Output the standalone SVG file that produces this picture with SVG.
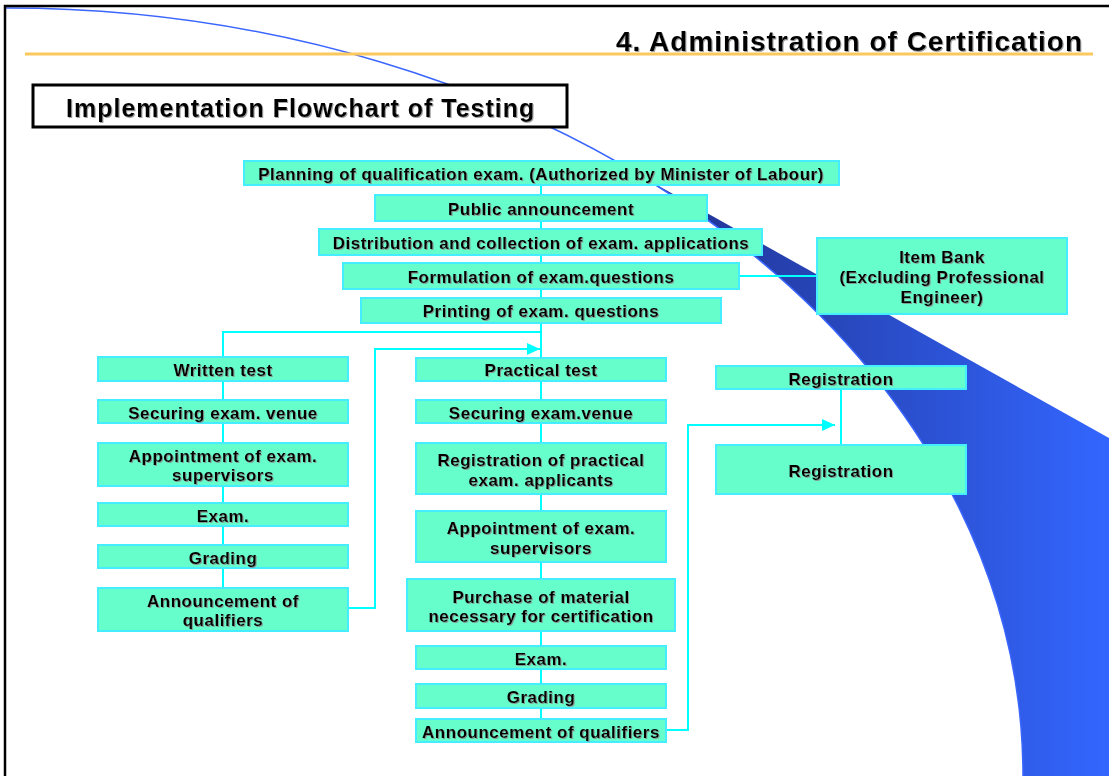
<svg xmlns="http://www.w3.org/2000/svg" width="1109" height="776" viewBox="0 0 1109 776">
  <defs>
    <linearGradient id="swooshFill" gradientUnits="userSpaceOnUse" x1="700" y1="0" x2="1109" y2="0">
      <stop offset="0" stop-color="#22379a"/>
      <stop offset="1" stop-color="#3366ff"/>
    </linearGradient>
    <filter id="shadow" x="-5%" y="-20%" width="110%" height="140%">
      <feDropShadow dx="1" dy="1" stdDeviation="0.4" flood-color="#888888" flood-opacity="0.8"/>
    </filter>
    <marker id="arrow" markerUnits="userSpaceOnUse" markerWidth="14" markerHeight="12" refX="13" refY="6" orient="auto">
      <path d="M0,0 L13,6 L0,12 Z" fill="#00ffff"/>
    </marker>
    <style>
      .box { fill: #66ffcc; stroke: #44eeff; stroke-width: 2; }
      .lbl { font-family: "Liberation Sans", Arial, sans-serif; font-weight: bold; font-size: 17px; letter-spacing: 0.5px; fill: #000000; text-anchor: middle; filter: url(#shadow); }
      .wire { fill: none; stroke: #00ffff; stroke-width: 2; }
      .head { font-family: "Liberation Sans", Arial, sans-serif; font-weight: bold; fill: #000000; letter-spacing: 1px; filter: url(#shadow); }
    </style>
  </defs>

  <rect width="1109" height="776" fill="#ffffff"/>

  <!-- background decoration: blue swoosh and thin arc -->
  <g id="backdrop">
    <path d="M640,175.5 L1109,438 L1109,776 L1023,776 A1017 768 0 0 0 640,175.5 Z" fill="url(#swooshFill)"/>
    <path d="M6,8 A1017 768 0 0 1 1023,776" fill="none" stroke="#3a66ff" stroke-width="1.5"/>
    <path d="M5,776 V6 H1109" fill="none" stroke="#000000" stroke-width="2.5"/>
    <line x1="25" y1="54" x2="1093" y2="54" stroke="#fbc85e" stroke-width="3"/>
  </g>

  <!-- page heading -->
  <g id="heading">
    <text class="head" x="1083" y="51" font-size="28" text-anchor="end">4. Administration of Certification</text>
  </g>

  <g id="title">
    <rect x="33" y="85" width="534" height="42" fill="#ffffff" stroke="#000000" stroke-width="3"/>
    <text class="head" x="66" y="117" font-size="25">Implementation Flowchart of Testing</text>
  </g>

  <!-- connectors -->
  <g id="connectors">
    <path class="wire" d="M541,185 V719"/>
    <path class="wire" d="M541,332 H223 V588"/>
    <path class="wire" d="M348,608 H375 V349 H540" marker-end="url(#arrow)"/>
    <path class="wire" d="M666,730 H688 V425 H835" marker-end="url(#arrow)"/>
    <path class="wire" d="M739,276 H817"/>
    <path class="wire" d="M841,389 V445"/>
  </g>

  <!-- common stages -->
  <g id="n-planning">
    <rect class="box" x="244" y="161" width="595" height="24"/>
    <text class="lbl" x="541" y="180">Planning of qualification exam. (Authorized by Minister of Labour)</text>
  </g>
  <g id="n-public">
    <rect class="box" x="375" y="195" width="332" height="26"/>
    <text class="lbl" x="541" y="215">Public announcement</text>
  </g>
  <g id="n-distribution">
    <rect class="box" x="319" y="229" width="443" height="26"/>
    <text class="lbl" x="541" y="249">Distribution and collection of exam. applications</text>
  </g>
  <g id="n-formulation">
    <rect class="box" x="343" y="263" width="396" height="26"/>
    <text class="lbl" x="541" y="283">Formulation of exam.questions</text>
  </g>
  <g id="n-printing">
    <rect class="box" x="361" y="298" width="360" height="25"/>
    <text class="lbl" x="541" y="317">Printing of exam. questions</text>
  </g>
  <g id="n-itembank">
    <rect class="box" x="817" y="238" width="250" height="76"/>
    <text class="lbl" x="942" y="263">Item Bank</text>
    <text class="lbl" x="942" y="283">(Excluding Professional</text>
    <text class="lbl" x="942" y="303">Engineer)</text>
  </g>

  <!-- written test column -->
  <g id="n-written">
    <rect class="box" x="98" y="357" width="250" height="24"/>
    <text class="lbl" x="223" y="376">Written test</text>
  </g>
  <g id="n-w-venue">
    <rect class="box" x="98" y="400" width="250" height="23"/>
    <text class="lbl" x="223" y="418.5">Securing exam. venue</text>
  </g>
  <g id="n-w-supervisors">
    <rect class="box" x="98" y="443" width="250" height="43"/>
    <text class="lbl" x="223" y="461.5">Appointment of exam.</text>
    <text class="lbl" x="223" y="481">supervisors</text>
  </g>
  <g id="n-w-exam">
    <rect class="box" x="98" y="503" width="250" height="23"/>
    <text class="lbl" x="223" y="521.5">Exam.</text>
  </g>
  <g id="n-w-grading">
    <rect class="box" x="98" y="545" width="250" height="23"/>
    <text class="lbl" x="223" y="563.5">Grading</text>
  </g>
  <g id="n-w-announce">
    <rect class="box" x="98" y="588" width="250" height="43"/>
    <text class="lbl" x="223" y="606.5">Announcement of</text>
    <text class="lbl" x="223" y="626">qualifiers</text>
  </g>

  <!-- practical test column -->
  <g id="n-practical">
    <rect class="box" x="416" y="358" width="250" height="23"/>
    <text class="lbl" x="541" y="376">Practical test</text>
  </g>
  <g id="n-p-venue">
    <rect class="box" x="416" y="400" width="250" height="23"/>
    <text class="lbl" x="541" y="418.5">Securing exam.venue</text>
  </g>
  <g id="n-p-registration">
    <rect class="box" x="416" y="443" width="250" height="51"/>
    <text class="lbl" x="541" y="465.5">Registration of practical</text>
    <text class="lbl" x="541" y="485.5">exam. applicants</text>
  </g>
  <g id="n-p-supervisors">
    <rect class="box" x="416" y="511" width="250" height="51"/>
    <text class="lbl" x="541" y="534">Appointment of exam.</text>
    <text class="lbl" x="541" y="553.5">supervisors</text>
  </g>
  <g id="n-p-purchase">
    <rect class="box" x="407" y="579" width="268" height="52"/>
    <text class="lbl" x="541" y="602.5">Purchase of material</text>
    <text class="lbl" x="541" y="622">necessary for certification</text>
  </g>
  <g id="n-p-exam">
    <rect class="box" x="416" y="646" width="250" height="23"/>
    <text class="lbl" x="541" y="665">Exam.</text>
  </g>
  <g id="n-p-grading">
    <rect class="box" x="416" y="684" width="250" height="24"/>
    <text class="lbl" x="541" y="703">Grading</text>
  </g>
  <g id="n-p-announce">
    <rect class="box" x="416" y="719" width="250" height="23"/>
    <text class="lbl" x="541" y="738">Announcement of qualifiers</text>
  </g>

  <!-- registration column -->
  <g id="n-registration-1">
    <rect class="box" x="716" y="366" width="250" height="23"/>
    <text class="lbl" x="841" y="384.5">Registration</text>
  </g>
  <g id="n-registration-2">
    <rect class="box" x="716" y="445" width="250" height="49"/>
    <text class="lbl" x="841" y="477">Registration</text>
  </g>
</svg>
